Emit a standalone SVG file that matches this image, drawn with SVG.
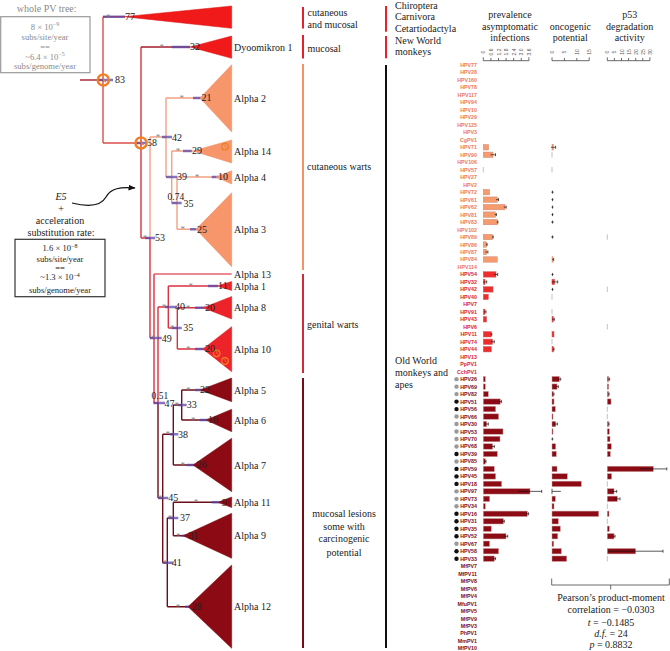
<svg xmlns="http://www.w3.org/2000/svg" width="670" height="651" viewBox="0 0 670 651">
<defs>
<marker id="ah" viewBox="0 0 10 10" refX="9" refY="5" markerWidth="6" markerHeight="6" orient="auto"><path d="M0 1 L10 5 L0 9 z" fill="#111"/></marker>
<g id="clock"><circle r="5.6" fill="none" stroke="#f07f22" stroke-width="2.4"/><path d="M0 0 V-3.6 M0 0 L2.6 2" stroke="#f07f22" stroke-width="1.1" fill="none"/></g>
<g id="clocks"><circle r="3.3" fill="none" stroke="#f07f22" stroke-width="1.2"/><path d="M0 0 V-2.2 M0 0 L1.6 1.2" stroke="#f07f22" stroke-width="0.8" fill="none"/></g>
</defs>
<style>
.sf{font-family:"Liberation Serif","Times New Roman",serif}
.t10{font-family:"Liberation Serif","Times New Roman",serif;font-size:10px;fill:#222}
.t9{font-family:"Liberation Serif","Times New Roman",serif;font-size:9.5px;fill:#222}
.gr{fill:#8a8a8a}
.bx{font-family:"Liberation Serif","Times New Roman",serif;font-size:8.6px;text-anchor:middle}
.mid{text-anchor:middle}
.star{font-family:"Liberation Serif","Times New Roman",serif;font-size:9px;fill:#888;text-anchor:middle}
.lab{font-family:"Liberation Sans",Arial,sans-serif;font-size:5.3px;font-weight:bold;text-anchor:end;dominant-baseline:central}
.l1{fill:#ec7a55}.l2{fill:#d92530}.l3{fill:#7d0c16}
.tk{font-family:"Liberation Sans",Arial,sans-serif;font-size:5px;fill:#555;text-anchor:middle;dominant-baseline:central}
.b1{fill:#f79a6e;stroke:#c98a74;stroke-width:0.5}
.b2{fill:#ee2c2c;stroke:#c46060;stroke-width:0.5}
.b3{fill:#8c0b15;stroke:#c79a9a;stroke-width:0.5}
.z{stroke:#999;stroke-width:0.6;fill:none}
.e{stroke:#111;stroke-width:0.7;fill:none}
.hpd{stroke:#5a48a8;stroke-opacity:0.75;stroke-width:2.6;fill:none}
.br{fill:none;stroke-width:1.4}
.tr{stroke:#e23a3a}.tb{stroke:#d9504c}.tc{stroke:#f3a183}.tg{stroke:#dd3040}.tm{stroke:#6e0c18}.td{stroke:#a01c2c}
.fr{fill:#f01a1a;stroke:#d81212;stroke-width:0.5}
.fc{fill:#f7966b;stroke:#ee8a60;stroke-width:0.5}
.fg{fill:#ec2329;stroke:#d41a22;stroke-width:0.5}
.fm{fill:#8b0a14;stroke:#7a0810;stroke-width:0.5}
.ax{stroke:#444;stroke-width:0.8;fill:none}
</style>
<rect width="670" height="651" fill="#fff"/>

<g id="box-whole">
<text class="t10 gr mid" x="46.7" y="11.5">whole PV tree:</text>
<rect x="0.7" y="16.7" width="89.3" height="56" fill="none" stroke="#999" stroke-width="1.2"/>
<text class="bx gr" x="45" y="29.5">8 × 10<tspan dy="-3.5" font-size="6">−9</tspan></text>
<text class="bx gr" x="45" y="40">subs/site/year</text>
<text class="bx gr" x="45" y="50">==</text>
<text class="bx gr" x="45" y="59.5">~6.4 × 10<tspan dy="-3.5" font-size="6">−5</tspan></text>
<text class="bx gr" x="45" y="69">subs/genome/year</text>
</g>

<g id="box-e5">
<text class="t10 mid" x="61" y="200" font-style="italic">E5</text>
<text class="t10 mid" x="61" y="211.5">+</text>
<text class="t10 mid" x="60" y="224">acceleration</text>
<text class="t10 mid" x="61" y="236">substitution rate:</text>
<rect x="15" y="239.3" width="90" height="57.4" fill="none" stroke="#333" stroke-width="1.2"/>
<text class="bx" x="60" y="251" fill="#222">1.6 × 10<tspan dy="-3.5" font-size="6">−8</tspan></text>
<text class="bx" x="60" y="261.5" fill="#222">subs/site/year</text>
<text class="bx" x="60" y="271" fill="#222">==</text>
<text class="bx" x="60" y="280.3" fill="#222">~1.3 × 10<tspan dy="-3.5" font-size="6">−4</tspan></text>
<text class="bx" x="60" y="292.5" fill="#222">subs/genome/year</text>
</g>

<g id="connectors">
<path class="br td" d="M80 80 H103"/>
<path class="br tb" d="M103 16.7 V143 M103 143 H141"/>
<path class="br tr" d="M103 16.7 H124"/>
<path class="br tg" d="M141 47 V238 M141 238 H150"/>
<path class="br td" d="M141 47 H190"/>
<path class="br tc" d="M150 137 V238"/>
<path class="br tg" d="M150 238 V338 M150 338 H154"/>
<path class="br tc" d="M150 137 H166 M166 98 V177 M166 98 H200 M166 177 H171.7 M171.7 151 V203 M171.7 151 H193 M171.7 203 H177 M177 177 V229.3 M177 177 H216 M177 229.3 H196"/>
<path class="br tg" d="M154 274 V403 M154 403 H158 M158 307 V403 M158 307 H168.3 M168.3 286 V328 M168.3 286 H217 M168.3 328 H177.3 M177.3 307.7 V349 M177.3 307.7 H203 M177.3 349 H203"/>
<path class="br" stroke="#e4606c" d="M154 274 H231.7"/>
<path class="br tm" d="M158 403 V498 M158 498 H162.7 M162.7 434.3 V562.7 M162.7 434.3 H173.3 M173.3 405 V465 M173.3 405 H181.7 M181.7 390 V420 M181.7 390 H200 M181.7 420 H206 M173.3 465 H193 M162.7 562.7 H167.3 M167.3 518 V606.7 M167.3 518 H173.3 M173.3 502.3 V535.7 M173.3 502.3 H218 M173.3 535.7 H183 M167.3 606.7 H188"/>
<path d="M72 203 C 88 207, 101 206, 106 197 C 111 188, 120 187, 135 188" fill="none" stroke="#111" stroke-width="1.2" marker-end="url(#ah)"/>
</g>

<g id="hpd-bars">
<path class="hpd" d="M103 16.7 H125 M97 80 H113 M171.7 47 H190 M136.7 143 H146.7 M193 98 H201.7 M162 137 H172 M183 151 H191.7 M166 177 H177 M211.7 177 H220 M171.7 203 H181.7 M190 229.3 H196.7 M145 238 H155 M150 338 H161.7 M208 286 H218 M165 307 H176.7 M195 307.7 H205 M171.7 328 H181.7 M195 349 H205 M153.3 403 H165 M195 390 H203.3 M178.3 405 H186.7 M200 420 H210 M170 434.3 H178.3 M186.7 465 H196.7 M158.3 498 H168.3 M211.7 502.3 H223.3 M168.3 518 H178.3 M181.7 535.7 H190 M162.7 562.7 H173.3 M185 606.7 H193.3"/>
</g>

<g id="node-root"><use href="#clock" x="103.3" y="80"/><text class="t10" x="115" y="83.4">83</text></g>
<g id="node-58"><use href="#clock" x="141" y="143"/><text class="t10" x="147" y="146.4">58</text></g>
<g id="node-53"><text class="star" x="145" y="241">*</text><text class="t10" x="155" y="241.4">53</text></g>
<g id="node-42"><text class="star" x="158" y="140">*</text><text class="t10" x="172" y="140.7">42</text></g>
<g id="node-39"><text class="t10" x="177" y="180.4">39</text></g>
<g id="node-35a"><text class="t9" x="167.5" y="199.5">0.74</text><text class="t10" x="183.5" y="207">35</text></g>
<g id="node-49"><text class="star" x="153.3" y="341">*</text><text class="t10" x="161.7" y="341.7">49</text></g>
<g id="node-47"><text class="t9" x="151.5" y="398.5">0.51</text><text class="t10" x="164.5" y="406.6">47</text></g>
<g id="node-40"><text class="star" x="164" y="310">*</text><text class="t10" x="175" y="310.1">40</text></g>
<g id="node-35b"><text class="star" x="172.3" y="331">*</text><text class="t10" x="183.3" y="331.1">35</text></g>
<g id="node-45"><text class="star" x="160" y="501">*</text><text class="t10" x="168.3" y="501.4">45</text></g>
<g id="node-38"><text class="star" x="167.7" y="437.3">*</text><text class="t10" x="178" y="437.7">38</text></g>
<g id="node-33"><text class="star" x="176.7" y="408">*</text><text class="t10" x="186.7" y="408.4">33</text></g>
<g id="node-41"><text class="star" x="165" y="565.7">*</text><text class="t10" x="171.7" y="566.1">41</text></g>
<g id="node-37"><text class="star" x="170" y="521">*</text><text class="t10" x="180" y="521.1">37</text></g>

<g id="clade-top"><path class="fr" d="M124 16.7 L231.7 6 L231.7 28.3 Z"/><text class="star" x="108.3" y="19.7">*</text><text class="t10" x="125" y="20.1">77</text></g>
<g id="clade-dyoomikron1"><path class="fr" d="M190 47 L231.7 36 L231.7 58.3 Z"/><text class="star" x="161.7" y="50">*</text><text class="t10" x="190" y="50.4">32</text><text class="t10" x="234" y="50.5">Dyoomikron 1</text></g>
<g id="clade-alpha2"><path class="fc" d="M200 98 L231.7 64.7 L231.7 132 Z"/><text class="star" x="181.7" y="101">*</text><text class="t10" x="201.5" y="101.4">21</text><text class="t10" x="234" y="101.5">Alpha 2</text></g>
<g id="clade-alpha14"><path class="fc" d="M193 151 L231.7 140 L231.7 163 Z"/><use href="#clocks" x="225" y="146.7"/><text class="star" x="178" y="154">*</text><text class="t10" x="192" y="154.4">29</text><text class="t10" x="234" y="154.5">Alpha 14</text></g>
<g id="clade-alpha4"><path class="fc" d="M216 177 L231.7 170.7 L231.7 184 Z"/><text class="star" x="197" y="180">*</text><text class="t10" x="218" y="180.4">10</text><text class="t10" x="234" y="180.5">Alpha 4</text></g>
<g id="clade-alpha3"><path class="fc" d="M196 229.3 L231.7 192.7 L231.7 266.7 Z"/><text class="star" x="182.7" y="232.3">*</text><text class="t10" x="197" y="232.7">25</text><text class="t10" x="234" y="232.8">Alpha 3</text></g>
<g id="clade-alpha13"><text class="t10" x="234" y="277.5">Alpha 13</text></g>
<g id="clade-alpha1"><path class="fg" d="M217 286 L231.7 281.5 L231.7 290.5 Z"/><text class="star" x="190.7" y="289">*</text><text class="t10" x="218" y="289.4">11</text><text class="t10" x="234" y="289.8">Alpha 1</text></g>
<g id="clade-alpha8"><path class="fg" d="M203 307.7 L231.7 296.5 L231.7 319 Z"/><text class="star" x="188" y="310.7">*</text><text class="t10" x="205" y="311.1">20</text><text class="t10" x="234" y="311.2">Alpha 8</text></g>
<g id="clade-alpha10"><path class="fg" d="M203 349 L231.7 326.7 L231.7 371.7 Z"/><use href="#clocks" x="216.7" y="353.3"/><use href="#clocks" x="225" y="361"/><text class="star" x="188.3" y="352">*</text><text class="t10" x="205" y="352.4">20</text><text class="t10" x="234" y="352.5">Alpha 10</text></g>
<g id="clade-alpha5"><path class="fm" d="M200 390 L231.7 378 L231.7 401.7 Z"/><text class="star" x="188.3" y="393">*</text><text class="t10" x="200" y="393.4">22</text><text class="t10" x="234" y="393.5">Alpha 5</text></g>
<g id="clade-alpha6"><path class="fm" d="M206 420 L231.7 409.3 L231.7 431.7 Z"/><text class="star" x="193.3" y="423">*</text><text class="t10" x="208" y="423.4">16</text><text class="t10" x="234" y="423.5">Alpha 6</text></g>
<g id="clade-alpha7"><path class="fm" d="M193 465 L231.7 438.3 L231.7 491.7 Z"/><text class="star" x="182.7" y="468">*</text><text class="t10" x="196.7" y="468.4">26</text><text class="t10" x="234" y="468.5">Alpha 7</text></g>
<g id="clade-alpha11"><path class="fm" d="M218 502.3 L231.7 497 L231.7 507.6 Z"/><text class="star" x="196" y="505.3">*</text><text class="t10" x="221.7" y="505.7">9</text><text class="t10" x="234" y="505.8">Alpha 11</text></g>
<g id="clade-alpha9"><path class="fm" d="M183 535.7 L231.7 513.3 L231.7 558.3 Z"/><text class="star" x="178.3" y="538.7">*</text><text class="t10" x="188.3" y="539.1">31</text><text class="t10" x="234" y="539.2">Alpha 9</text></g>
<g id="clade-alpha12"><path class="fm" d="M188 606.7 L231.7 565 L231.7 648.3 Z"/><text class="star" x="178" y="609.7">*</text><text class="t10" x="191.7" y="610.1">28</text><text class="t10" x="234" y="610.2">Alpha 12</text></g>

<g id="lesion-brackets">
<rect x="302" y="7" width="2" height="21.5" fill="#e8202a"/>
<rect x="302" y="35" width="2" height="23.5" fill="#e8202a"/>
<rect x="302" y="64" width="2" height="206" fill="#f4906a"/>
<rect x="302" y="274" width="2" height="99" fill="#d42a35"/>
<rect x="302" y="378" width="2" height="270" fill="#7a0a14"/>
<text class="t10" x="307.5" y="15.5">cutaneous</text>
<text class="t10" x="307.5" y="27.5">and mucosal</text>
<text class="t10" x="307.5" y="51.5">mucosal</text>
<text class="t10" x="307" y="170">cutaneous warts</text>
<text class="t10" x="307" y="328">genital warts</text>
<text class="t10 mid" x="344" y="517">mucosal lesions</text>
<text class="t10 mid" x="344" y="529.5">some with</text>
<text class="t10 mid" x="344" y="542">carcinogenic</text>
<text class="t10 mid" x="344" y="555.5">potential</text>
</g>

<g id="host-brackets">
<rect x="385" y="6" width="2" height="25.7" fill="#e8202a"/>
<rect x="385" y="36" width="2" height="22.3" fill="#e8202a"/>
<rect x="385" y="65" width="2" height="583" fill="#111"/>
<text class="t10" x="395" y="8.7">Chiroptera</text>
<text class="t10" x="395" y="20.3">Carnivora</text>
<text class="t10" x="395" y="32">Cetartiodactyla</text>
<text class="t10" x="395" y="43.7">New World</text>
<text class="t10" x="395" y="55.3">monkeys</text>
<text class="t10" x="395" y="364">Old World</text>
<text class="t10" x="395" y="376">monkeys and</text>
<text class="t10" x="395" y="388">apes</text>
</g>

<g id="headers">
<text class="t10 mid" x="510" y="18">prevalence</text>
<text class="t10 mid" x="510" y="29.7">asymptomatic</text>
<text class="t10 mid" x="510" y="41.4">infections</text>
<text class="t10 mid" x="570.3" y="29.7">oncogenic</text>
<text class="t10 mid" x="570.3" y="41.4">potential</text>
<text class="t10 mid" x="629.7" y="18">p53</text>
<text class="t10 mid" x="629.7" y="29.7">degradation</text>
<text class="t10 mid" x="629.7" y="41.4">activity</text>
</g>

<g id="axes">
<path class="ax" d="M483.3 57.3 V60.7 H528.9 V57.3 M490.9 60.7 V58 M498.5 60.7 V58 M506.1 60.7 V58 M513.7 60.7 V58 M521.3 60.7 V58"/>
<path class="ax" d="M552 57.3 V60.7 H589.2 V57.3 M564.4 60.7 V58 M576.8 60.7 V58"/>
<path class="ax" d="M607.3 57.3 V60.7 H649.9 V57.3 M614.4 60.7 V58 M621.5 60.7 V58 M628.6 60.7 V58 M635.7 60.7 V58 M642.8 60.7 V58"/>
<text class="tk" transform="translate(483.3 52) rotate(-90)">0</text>
<text class="tk" transform="translate(490.9 52) rotate(-90)">0.6</text>
<text class="tk" transform="translate(498.5 52) rotate(-90)">1.2</text>
<text class="tk" transform="translate(506.1 52) rotate(-90)">1.8</text>
<text class="tk" transform="translate(513.7 52) rotate(-90)">2.4</text>
<text class="tk" transform="translate(521.3 52) rotate(-90)">3.0</text>
<text class="tk" transform="translate(528.9 52) rotate(-90)">3.6</text>
<text class="tk" transform="translate(552 52) rotate(-90)">0</text>
<text class="tk" transform="translate(564.4 52) rotate(-90)">5</text>
<text class="tk" transform="translate(576.8 52) rotate(-90)">10</text>
<text class="tk" transform="translate(589.2 52) rotate(-90)">15</text>
<text class="tk" transform="translate(607.3 52) rotate(-90)">0</text>
<text class="tk" transform="translate(614.4 52) rotate(-90)">5</text>
<text class="tk" transform="translate(621.5 52) rotate(-90)">10</text>
<text class="tk" transform="translate(628.6 52) rotate(-90)">15</text>
<text class="tk" transform="translate(635.7 52) rotate(-90)">20</text>
<text class="tk" transform="translate(642.8 52) rotate(-90)">25</text>
<text class="tk" transform="translate(649.9 52) rotate(-90)">30</text>
</g>

<g id="taxa">
<text class="lab l1" x="477" y="65">HPV77</text>
<text class="lab l1" x="477" y="72.48">HPV28</text>
<text class="lab l1" x="477" y="79.96">HPV160</text>
<text class="lab l1" x="477" y="87.44">HPV78</text>
<text class="lab l1" x="477" y="94.92">HPV117</text>
<text class="lab l1" x="477" y="102.4">HPV94</text>
<text class="lab l1" x="477" y="109.88">HPV10</text>
<text class="lab l1" x="477" y="117.36">HPV29</text>
<text class="lab l1" x="477" y="124.84">HPV125</text>
<text class="lab l1" x="477" y="132.32">HPV3</text>
<text class="lab l1" x="477" y="139.8">CgPV1</text>
<text class="lab l1" x="477" y="147.28">HPV71</text>
<text class="lab l1" x="477" y="154.76">HPV90</text>
<text class="lab l1" x="477" y="162.24">HPV106</text>
<text class="lab l1" x="477" y="169.72">HPV57</text>
<text class="lab l1" x="477" y="177.2">HPV27</text>
<text class="lab l1" x="477" y="184.68">HPV2</text>
<text class="lab l1" x="477" y="192.16">HPV72</text>
<text class="lab l1" x="477" y="199.64">HPV61</text>
<text class="lab l1" x="477" y="207.12">HPV62</text>
<text class="lab l1" x="477" y="214.6">HPV81</text>
<text class="lab l1" x="477" y="222.08">HPV83</text>
<text class="lab l1" x="477" y="229.56">HPV102</text>
<text class="lab l1" x="477" y="237.04">HPV89</text>
<text class="lab l1" x="477" y="244.52">HPV86</text>
<text class="lab l1" x="477" y="252">HPV87</text>
<text class="lab l1" x="477" y="259.48">HPV84</text>
<text class="lab l1" x="477" y="266.96">HPV114</text>
<text class="lab l2" x="477" y="274.44">HPV54</text>
<text class="lab l2" x="477" y="281.92">HPV32</text>
<text class="lab l2" x="477" y="289.4">HPV42</text>
<text class="lab l2" x="477" y="296.88">HPV40</text>
<text class="lab l2" x="477" y="304.36">HPV7</text>
<text class="lab l2" x="477" y="311.84">HPV91</text>
<text class="lab l2" x="477" y="319.32">HPV43</text>
<text class="lab l2" x="477" y="326.8">HPV6</text>
<text class="lab l2" x="477" y="334.28">HPV11</text>
<text class="lab l2" x="477" y="341.76">HPV74</text>
<text class="lab l2" x="477" y="349.24">HPV44</text>
<text class="lab l2" x="477" y="356.72">HPV13</text>
<text class="lab l2" x="477" y="364.2">PpPV1</text>
<text class="lab l2" x="477" y="371.68">CchPV1</text>
<text class="lab l3" x="477" y="379.16">HPV26</text>
<text class="lab l3" x="477" y="386.64">HPV69</text>
<text class="lab l3" x="477" y="394.12">HPV82</text>
<text class="lab l3" x="477" y="401.6">HPV51</text>
<text class="lab l3" x="477" y="409.08">HPV56</text>
<text class="lab l3" x="477" y="416.56">HPV66</text>
<text class="lab l3" x="477" y="424.04">HPV30</text>
<text class="lab l3" x="477" y="431.52">HPV53</text>
<text class="lab l3" x="477" y="439">HPV70</text>
<text class="lab l3" x="477" y="446.48">HPV68</text>
<text class="lab l3" x="477" y="453.96">HPV39</text>
<text class="lab l3" x="477" y="461.44">HPV85</text>
<text class="lab l3" x="477" y="468.92">HPV59</text>
<text class="lab l3" x="477" y="476.4">HPV45</text>
<text class="lab l3" x="477" y="483.88">HPV18</text>
<text class="lab l3" x="477" y="491.36">HPV97</text>
<text class="lab l3" x="477" y="498.84">HPV73</text>
<text class="lab l3" x="477" y="506.32">HPV34</text>
<text class="lab l3" x="477" y="513.8">HPV16</text>
<text class="lab l3" x="477" y="521.28">HPV31</text>
<text class="lab l3" x="477" y="528.76">HPV35</text>
<text class="lab l3" x="477" y="536.24">HPV52</text>
<text class="lab l3" x="477" y="543.72">HPV67</text>
<text class="lab l3" x="477" y="551.2">HPV58</text>
<text class="lab l3" x="477" y="558.68">HPV33</text>
<text class="lab l3" x="477" y="566.16">MfPV7</text>
<text class="lab l3" x="477" y="573.64">MfPV11</text>
<text class="lab l3" x="477" y="581.12">MfPV8</text>
<text class="lab l3" x="477" y="588.6">MfPV6</text>
<text class="lab l3" x="477" y="596.08">MfPV4</text>
<text class="lab l3" x="477" y="603.56">MfuPV1</text>
<text class="lab l3" x="477" y="611.04">MfPV5</text>
<text class="lab l3" x="477" y="618.52">MfPV9</text>
<text class="lab l3" x="477" y="626">MfPV3</text>
<text class="lab l3" x="477" y="633.48">PhPV1</text>
<text class="lab l3" x="477" y="640.96">MmPV1</text>
<text class="lab l3" x="477" y="648.44">MfPV10</text>
</g>

<g id="risk-dots">
<g fill="#9a9a9a">
<circle cx="456.5" cy="379.16" r="2.2"/><circle cx="456.5" cy="386.64" r="2.2"/><circle cx="456.5" cy="394.12" r="2.2"/>
<circle cx="456.5" cy="416.56" r="2.2"/><circle cx="456.5" cy="424.04" r="2.2"/><circle cx="456.5" cy="431.52" r="2.2"/><circle cx="456.5" cy="439" r="2.2"/><circle cx="456.5" cy="446.48" r="2.2"/>
<circle cx="456.5" cy="461.44" r="2.2"/><circle cx="456.5" cy="491.36" r="2.2"/><circle cx="456.5" cy="498.84" r="2.2"/><circle cx="456.5" cy="506.32" r="2.2"/><circle cx="456.5" cy="543.72" r="2.2"/>
</g>
<g fill="#111">
<circle cx="456.5" cy="401.6" r="2.2"/><circle cx="456.5" cy="409.08" r="2.2"/><circle cx="456.5" cy="453.96" r="2.2"/><circle cx="456.5" cy="468.92" r="2.2"/><circle cx="456.5" cy="476.4" r="2.2"/><circle cx="456.5" cy="483.88" r="2.2"/>
<circle cx="456.5" cy="513.8" r="2.2"/><circle cx="456.5" cy="521.28" r="2.2"/><circle cx="456.5" cy="528.76" r="2.2"/><circle cx="456.5" cy="536.24" r="2.2"/><circle cx="456.5" cy="551.2" r="2.2"/><circle cx="456.5" cy="558.68" r="2.2"/>
</g>
</g>

<g id="bars-prevalence">
<rect class="b1" x="483.3" y="144.58" width="5.3" height="5.4"/>
<rect class="b1" x="483.3" y="152.06" width="9.7" height="5.4"/>
<rect class="b1" x="483.3" y="189.46" width="6.3" height="5.4"/>
<rect class="b1" x="483.3" y="196.94" width="14" height="5.4"/>
<rect class="b1" x="483.3" y="204.42" width="21.7" height="5.4"/>
<rect class="b1" x="483.3" y="211.9" width="12.3" height="5.4"/>
<rect class="b1" x="483.3" y="219.38" width="14" height="5.4"/>
<rect class="b1" x="483.3" y="234.34" width="9.3" height="5.4"/>
<rect class="b1" x="483.3" y="241.82" width="3.3" height="5.4"/>
<rect class="b1" x="483.3" y="249.3" width="3.3" height="5.4"/>
<rect class="b1" x="483.3" y="256.78" width="14" height="5.4"/>
<rect class="b2" x="483.3" y="271.74" width="12.7" height="5.4"/>
<rect class="b2" x="483.3" y="279.22" width="1.7" height="5.4"/>
<rect class="b2" x="483.3" y="286.7" width="9.7" height="5.4"/>
<rect class="b2" x="483.3" y="294.18" width="5" height="5.4"/>
<rect class="b2" x="483.3" y="309.14" width="1.7" height="5.4"/>
<rect class="b2" x="483.3" y="316.62" width="3.3" height="5.4"/>
<rect class="b2" x="483.3" y="331.58" width="8" height="5.4"/>
<rect class="b2" x="483.3" y="339.06" width="9.3" height="5.4"/>
<rect class="b2" x="483.3" y="346.54" width="8" height="5.4"/>
<rect class="b3" x="483.3" y="376.46" width="2" height="5.4"/>
<rect class="b3" x="483.3" y="383.94" width="2" height="5.4"/>
<rect class="b3" x="483.3" y="391.42" width="5" height="5.4"/>
<rect class="b3" x="483.3" y="398.9" width="17" height="5.4"/>
<rect class="b3" x="483.3" y="406.38" width="12.3" height="5.4"/>
<rect class="b3" x="483.3" y="413.86" width="15.3" height="5.4"/>
<rect class="b3" x="483.3" y="421.34" width="3.3" height="5.4"/>
<rect class="b3" x="483.3" y="428.82" width="19.7" height="5.4"/>
<rect class="b3" x="483.3" y="436.3" width="16.7" height="5.4"/>
<rect class="b3" x="483.3" y="443.78" width="9.3" height="5.4"/>
<rect class="b3" x="483.3" y="451.26" width="14" height="5.4"/>
<rect class="b3" x="483.3" y="458.74" width="2" height="5.4"/>
<rect class="b3" x="483.3" y="466.22" width="11" height="5.4"/>
<rect class="b3" x="483.3" y="473.7" width="12.3" height="5.4"/>
<rect class="b3" x="483.3" y="481.18" width="18.3" height="5.4"/>
<rect class="b3" x="483.3" y="488.66" width="46.7" height="5.4"/>
<rect class="b3" x="483.3" y="496.14" width="6.3" height="5.4"/>
<rect class="b3" x="483.3" y="503.62" width="2" height="5.4"/>
<rect class="b3" x="483.3" y="511.1" width="44" height="5.4"/>
<rect class="b3" x="483.3" y="518.58" width="20" height="5.4"/>
<rect class="b3" x="483.3" y="526.06" width="8" height="5.4"/>
<rect class="b3" x="483.3" y="533.54" width="22.7" height="5.4"/>
<rect class="b3" x="483.3" y="541.02" width="6.3" height="5.4"/>
<rect class="b3" x="483.3" y="548.5" width="15.3" height="5.4"/>
<rect class="b3" x="483.3" y="555.98" width="11" height="5.4"/>
<path class="z" d="M483.3 167.02 v5.4"/>
<path class="e" d="M490.5 154.76 H495.5 M495.5 153.26 v3 M496.1 199.64 H498.5 M498.5 198.14 v3 M503.8 207.12 H506.2 M506.2 205.62 v3 M494.8 214.6 H496.4 M496.4 213.1 v3 M496.7 222.08 H497.9 M497.9 220.58 v3 M492 237.04 H493.2 M493.2 235.54 v3 M486.1 244.52 H487.1 M487.1 243.02 v3 M485.3 252 H487.9 M487.9 250.5 v3 M494.3 274.44 H497.7 M497.7 272.94 v3 M483.3 281.92 H486.7 M486.7 280.42 v3 M484 311.84 H486 M486 310.34 v3 M490.8 334.28 H491.8 M491.8 332.78 v3 M490.9 341.76 H494.3 M494.3 340.26 v3 M499 401.6 H501.6 M501.6 400.1 v3 M484.9 424.04 H488.3 M488.3 422.54 v3 M490.9 446.48 H494.3 M494.3 444.98 v3 M484.6 461.44 H486 M486 459.94 v3 M518.3 491.36 H541.7 M541.7 489.86 v3 M526 513.8 H528.6 M528.6 512.3 v3 M502.3 521.28 H504.3 M504.3 519.78 v3 M504.3 536.24 H507.7 M507.7 534.74 v3 M493 558.68 H495.6 M495.6 557.18 v3"/>
</g>

<g id="bars-oncogenic">
<rect class="b1" x="552" y="144.58" width="1.3" height="5.4"/>
<rect class="b1" x="552" y="256.78" width="1" height="5.4"/>
<rect class="b2" x="552" y="279.22" width="2.7" height="5.4"/>
<rect class="b2" x="552" y="316.62" width="1.3" height="5.4"/>
<rect class="b2" x="552" y="331.58" width="2" height="5.4"/>
<rect class="b2" x="552" y="346.54" width="1.5" height="5.4"/>
<rect class="b3" x="552" y="376.46" width="7.3" height="5.4"/>
<rect class="b3" x="552" y="383.94" width="5" height="5.4"/>
<rect class="b3" x="552" y="391.42" width="1.3" height="5.4"/>
<rect class="b3" x="552" y="398.9" width="2" height="5.4"/>
<rect class="b3" x="552" y="406.38" width="3.3" height="5.4"/>
<rect class="b3" x="552" y="413.86" width="1" height="5.4"/>
<rect class="b3" x="552" y="421.34" width="3.7" height="5.4"/>
<rect class="b3" x="552" y="428.82" width="1" height="5.4"/>
<rect class="b3" x="552" y="443.78" width="3.7" height="5.4"/>
<rect class="b3" x="552" y="451.26" width="4.3" height="5.4"/>
<rect class="b3" x="552" y="466.22" width="5" height="5.4"/>
<rect class="b3" x="552" y="473.7" width="15.3" height="5.4"/>
<rect class="b3" x="552" y="481.18" width="29.3" height="5.4"/>
<rect class="b3" x="552" y="496.14" width="3.3" height="5.4"/>
<rect class="b3" x="552" y="503.62" width="2" height="5.4"/>
<rect class="b3" x="552" y="511.1" width="46.7" height="5.4"/>
<rect class="b3" x="552" y="518.58" width="6.3" height="5.4"/>
<rect class="b3" x="552" y="526.06" width="8.3" height="5.4"/>
<rect class="b3" x="552" y="533.54" width="5.7" height="5.4"/>
<rect class="b3" x="552" y="541.02" width="1.7" height="5.4"/>
<rect class="b3" x="552" y="548.5" width="9.3" height="5.4"/>
<rect class="b3" x="552" y="555.98" width="14.7" height="5.4"/>
<path class="z" d="M552 152.06 v5.4 M552 167.02 v5.4 M552 294.18 v5.4 M552 309.14 v5.4 M552 339.06 v5.4"/>
<path class="e" d="M551 147.28 H555.6 M555.6 145.78 v3 M551.3 192.16 H553.7 M552.5 190.66 v3 M551.5 199.64 H553.5 M552.5 198.14 v3 M551.5 207.12 H553.5 M552.5 205.62 v3 M551.5 214.6 H553.5 M552.5 213.1 v3 M551.2 222.08 H553.8 M552.5 220.58 v3 M551.2 237.04 H553.8 M552.5 235.54 v3 M552.3 259.48 H553.7 M553.7 257.98 v3 M551.5 274.44 H553.5 M552.5 272.94 v3 M551.7 281.92 H557.7 M557.7 280.42 v3 M551.5 289.4 H553.5 M552.5 287.9 v3 M552.3 319.32 H554.3 M554.3 317.82 v3 M553 349.24 H554 M554 347.74 v3 M557.9 379.16 H560.7 M560.7 377.66 v3 M555.7 386.64 H558.3 M558.3 385.14 v3 M552.6 394.12 H554 M554 392.62 v3 M554 424.04 H557.4 M557.4 422.54 v3 M551.4 439 H553.4 M552.4 437.5 v3 M552 491.36 H560.8 M552 488.66 v5.4"/>
</g>

<g id="bars-p53">
<rect class="b3" x="607.3" y="376.46" width="1.3" height="5.4"/>
<rect class="b3" x="607.3" y="383.94" width="1.3" height="5.4"/>
<rect class="b3" x="607.3" y="391.42" width="1.3" height="5.4"/>
<rect class="b3" x="607.3" y="398.9" width="3.7" height="5.4"/>
<rect class="b3" x="607.3" y="421.34" width="1.3" height="5.4"/>
<rect class="b3" x="607.3" y="428.82" width="2" height="5.4"/>
<rect class="b3" x="607.3" y="436.3" width="2.7" height="5.4"/>
<rect class="b3" x="607.3" y="443.78" width="4" height="5.4"/>
<rect class="b3" x="607.3" y="451.26" width="3" height="5.4"/>
<rect class="b3" x="607.3" y="466.22" width="46" height="5.4"/>
<rect class="b3" x="607.3" y="473.7" width="4.3" height="5.4"/>
<rect class="b3" x="607.3" y="488.66" width="6.7" height="5.4"/>
<rect class="b3" x="607.3" y="496.14" width="10" height="5.4"/>
<rect class="b3" x="607.3" y="511.1" width="1.7" height="5.4"/>
<rect class="b3" x="607.3" y="526.06" width="2" height="5.4"/>
<rect class="b3" x="607.3" y="533.54" width="6.7" height="5.4"/>
<rect class="b3" x="607.3" y="548.5" width="28.3" height="5.4"/>
<path class="z" d="M607.3 234.34 v5.4 M607.3 286.7 v5.4 M607.3 324.1 v5.4 M607.3 406.38 v5.4 M607.3 413.86 v5.4 M607.3 481.18 v5.4 M607.3 503.62 v5.4 M607.3 518.58 v5.4 M607.3 555.98 v5.4"/>
<path class="e" d="M607.6 379.16 H609.6 M609.6 377.66 v3 M608.1 394.12 H609.1 M609.1 392.62 v3 M608.1 424.04 H609.1 M609.1 422.54 v3 M639.8 468.92 H666.8 M666.8 467.42 v3 M611.3 491.36 H616.7 M616.7 489.86 v3 M614.6 498.84 H620 M620 497.34 v3 M613 536.24 H615 M615 534.74 v3 M608.2 551.2 H663 M663 549.7 v3"/>
</g>

<g id="correlation">
<path class="ax" stroke-width="1" d="M551.7 578.5 V585 H669.3 V578.5 M610.7 585 V589.5"/>
<text class="t10 mid" x="611" y="600.5">Pearson’s product-moment</text>
<text class="t10 mid" x="611" y="613">correlation = −0.0303</text>
<text class="t10 mid" x="611" y="625.5"><tspan font-style="italic">t</tspan> = −0.1485</text>
<text class="t10 mid" x="611" y="636.8"><tspan font-style="italic">d.f.</tspan> = 24</text>
<text class="t10 mid" x="611" y="647.5"><tspan font-style="italic">p</tspan> = 0.8832</text>
</g>
</svg>
